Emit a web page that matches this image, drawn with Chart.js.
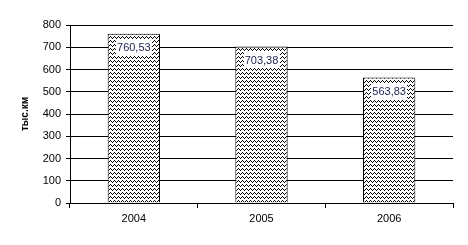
<!DOCTYPE html>
<html>
<head>
<meta charset="utf-8">
<script src="https://cdn.jsdelivr.net/npm/chart.js@4/dist/chart.umd.min.js"></script>
<style>
  html, body { margin: 0; padding: 0; background: #fff; }
  #wrap { width: 468px; height: 245px; }
</style>
</head>
<body>
<div id="wrap"><canvas id="chart"></canvas></div>
<script>
var years = ['2004', '2005', '2006'];
var values = [760.53, 703.38, 563.83];
var valueLabels = ['760,53', '703,38', '563,83'];
var axisTitle = 'тыс.км';

// zigzag fill like the old excel pattern, drawn pixel by pixel
function zigzag() {
    var c = document.createElement('canvas');
    c.width = 4; c.height = 4;
    var g = c.getContext('2d');
    g.fillStyle = '#fff';
    g.fillRect(0, 0, 4, 4);
    g.fillStyle = '#000';
    [[0, 2], [1, 1], [2, 0], [3, 1]].forEach(function(p) {
        g.fillRect(p[0], p[1], 1, 1);
    });
    return g.createPattern(c, 'repeat');
}

var labelPlugin = {
    id: 'barLabels',
    afterDatasetsDraw: function(chart) {
        var ctx = chart.ctx;
        var meta = chart.getDatasetMeta(0);
        ctx.save();
        ctx.font = '11px "Liberation Sans", Arial, sans-serif';
        ctx.textAlign = 'center';
        ctx.textBaseline = 'middle';
        meta.data.forEach(function(bar, i) {
            var cy = bar.y + 13;
            var w = ctx.measureText(valueLabels[i]).width + 2;
            ctx.fillStyle = '#fff';
            ctx.fillRect(Math.round(bar.x - w / 2), Math.round(cy - 8), Math.round(w), 17);
            ctx.fillStyle = '#1a2250';
            ctx.fillText(valueLabels[i], bar.x, cy + 1);
        });
        ctx.restore();
    }
};

var titlePlugin = {
    id: 'yTitle',
    afterDraw: function(chart) {
        var ctx = chart.ctx;
        var area = chart.chartArea;
        ctx.save();
        ctx.translate(25, (area.top + area.bottom) / 2);
        ctx.rotate(-Math.PI / 2);
        ctx.font = 'bold 10px "Liberation Sans", Arial, sans-serif';
        ctx.fillStyle = '#000';
        ctx.textAlign = 'center';
        ctx.textBaseline = 'middle';
        ctx.fillText(axisTitle, 0, 0);
        ctx.restore();
    }
};

var ctx = document.getElementById('chart').getContext('2d');
var chart = new Chart(ctx, {
    type: 'bar',
    data: {
        labels: years,
        datasets: [{
            data: values,
            backgroundColor: zigzag(),
            borderColor: '#000',
            borderWidth: 1,
            barPercentage: 0.41,
            categoryPercentage: 1.0
        }]
    },
    options: {
        responsive: true,
        maintainAspectRatio: false,
        animation: false,
        layout: { padding: { left: 0, top: 25, right: 15, bottom: 0 } },
        plugins: {
            legend: { display: false },
            tooltip: { enabled: false }
        },
        scales: {
            x: {
                grid: { display: true, drawOnChartArea: false, color: '#000', tickLength: 5, offset: true },
                border: { display: true, color: '#000', width: 1 },
                ticks: { color: '#000', font: { family: '"Liberation Sans", Arial, sans-serif', size: 11 }, padding: 4 },
                afterFit: function(s) { s.height = 42; }
            },
            y: {
                min: 0,
                max: 800,
                ticks: { stepSize: 100, color: '#000', font: { family: '"Liberation Sans", Arial, sans-serif', size: 11 }, padding: 5 },
                grid: { color: '#000', lineWidth: 1, tickLength: 4 },
                border: { display: true, color: '#000', width: 1 },
                afterFit: function(s) { s.width = 70; }
            }
        }
    },
    plugins: [labelPlugin, titlePlugin]
});
</script>
</body>
</html>
